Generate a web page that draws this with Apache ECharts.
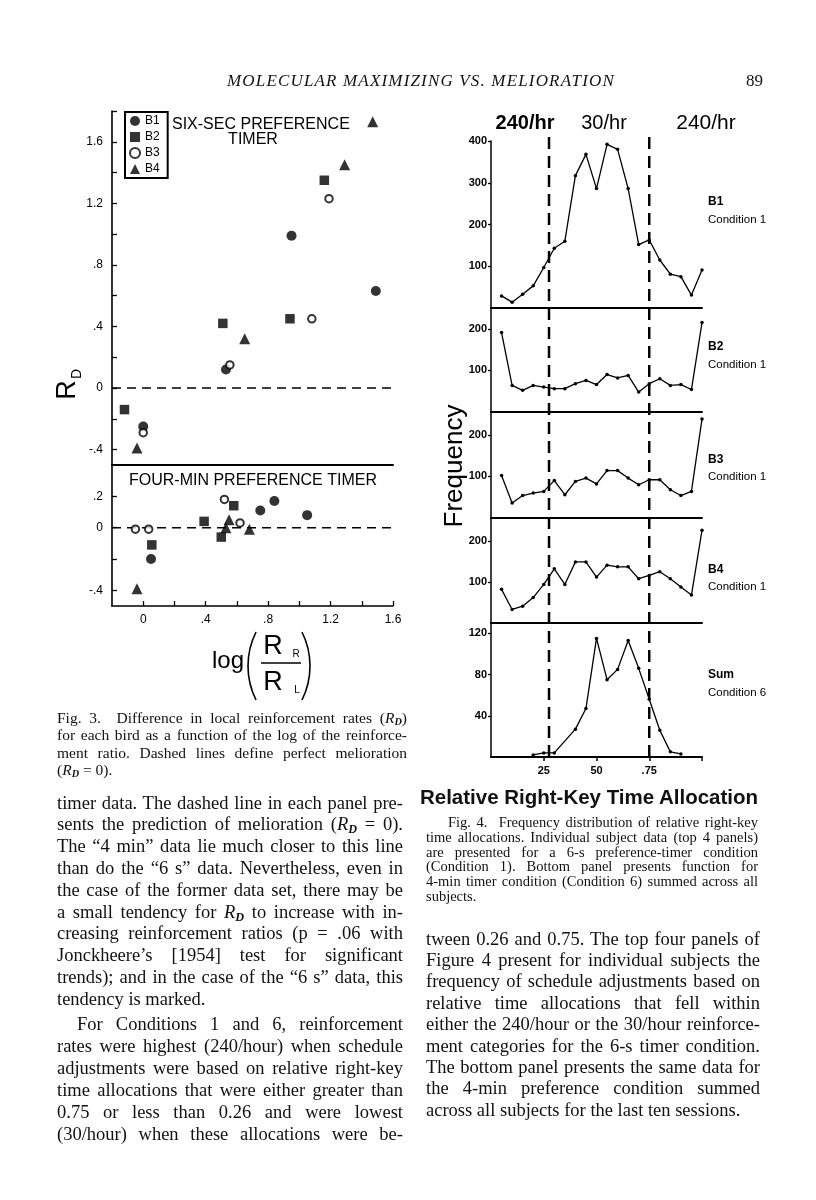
<!DOCTYPE html>
<html><head><meta charset="utf-8">
<script src="https://cdn.jsdelivr.net/npm/echarts@6/dist/echarts.min.js"></script>
<style>
html,body{margin:0;padding:0;background:#fff}
#wrap{position:relative;width:816px;height:1200px;overflow:hidden;background:#fff}
#chart{position:absolute;left:0;top:0;width:816px;height:1200px}
.ln{position:absolute;white-space:nowrap;color:#111;font-family:"Liberation Serif","Times New Roman",serif}
</style></head>
<body><div id="wrap"><div id="chart"></div><div id="txt"></div></div>
<script>
// ---------------- DATA ----------------
// Fig. 3: log(RR/RL) vs RD
const birds = ['B1', 'B2', 'B3', 'B4'];
const fig3XTicks = [0, 0.2, 0.4, 0.6, 0.8, 1.0, 1.2, 1.4, 1.6];
const fig3XLabels = [0, 0.4, 0.8, 1.2, 1.6];
const fig3TopYTicks = [-0.4, -0.2, 0, 0.2, 0.4, 0.6, 0.8, 1.0, 1.2, 1.4, 1.6, 1.8];
const fig3TopYLabels = [-0.4, 0, 0.4, 0.8, 1.2, 1.6];
const fig3BotYTicks = [-0.4, -0.2, 0, 0.2];
const fig3BotYLabels = [-0.4, 0, 0.2];
const sixSecB1 = [[0.0, -0.25], [0.53, 0.12], [0.95, 0.99], [1.49, 0.63]];
const sixSecB2 = [[-0.12, -0.14], [0.51, 0.42], [0.94, 0.45], [1.16, 1.35]];
const sixSecB3 = [[0.0, -0.29], [0.555, 0.15], [1.08, 0.45], [1.19, 1.23]];
const sixSecB4 = [[-0.04, -0.39], [0.65, 0.32], [1.29, 1.45], [1.47, 1.73]];
const fourMinB1 = [[0.05, -0.2], [0.75, 0.11], [0.84, 0.17], [1.05, 0.08]];
const fourMinB2 = [[0.055, -0.11], [0.39, 0.04], [0.5, -0.06], [0.58, 0.14]];
const fourMinB3 = [[-0.05, -0.01], [0.035, -0.01], [0.52, 0.18], [0.62, 0.03]];
const fourMinB4 = [[-0.04, -0.39], [0.53, 0.0], [0.55, 0.05], [0.68, -0.01]];
const meliorationRD = 0;

// Fig. 4: frequency vs relative right-key time allocation
const allocX = [5, 10, 15, 20, 25, 30, 35, 40, 45, 50, 55, 60, 65, 70, 75, 80, 85, 90, 95, 100];
const freqB1 = [29, 14, 33, 53, 97, 143, 160, 317, 368, 286, 392, 380, 286, 152, 163, 115, 81, 75, 31, 91];
const freqB2 = [191, 64, 52, 64, 60, 56, 56, 68, 76, 66, 90, 82, 88, 48, 68, 80, 64, 66, 54, 215];
const freqB3 = [102, 36, 54, 60, 64, 90, 56, 88, 96, 82, 114, 114, 96, 80, 92, 92, 68, 54, 64, 238];
const freqB4 = [82, 33, 41, 62, 94, 132, 94, 149, 149, 112, 141, 137, 137, 108, 116, 125, 108, 88, 68, 226];
const sumX = [20, 25, 30, 40, 45, 50, 55, 60, 65, 70, 75, 80, 85, 90];
const freqSum = [2, 4, 4, 27, 47, 115, 75, 85, 113, 86, 56, 26, 5, 3];
const boundaryX = [27.5, 75];
const rateLabels = ['240/hr', '30/hr', '240/hr'];
const fig4XTicks = [25, 50, 75, 100];
const fig4XLabels = [25, 50, 75];
const b1YTicks = [100, 200, 300, 400];
const bYTicks = [100, 200];
const sumYTicks = [40, 80, 120];
const panelNames = ['B1', 'B2', 'B3', 'B4', 'Sum'];
const panelConds = ['Condition 1', 'Condition 1', 'Condition 1', 'Condition 1', 'Condition 6'];

// Page text
const headerText = 'MOLECULAR MAXIMIZING VS. MELIORATION';
const pageNumber = '89';
const RD = '<i>R</i><sub style="font-size:0.66em;font-style:italic;font-weight:bold;vertical-align:-0.22em;line-height:0">D</sub>';
const fig3Caption = [
  'Fig. 3.&nbsp; Difference in local reinforcement rates (' + RD + ')',
  'for each bird as a function of the log of the reinforce-',
  'ment ratio. Dashed lines define perfect melioration',
  '(' + RD + ' = 0).'
];
const fig4Title = 'Relative Right-Key Time Allocation';
const fig4Caption = [
  'Fig. 4.&nbsp; Frequency distribution of relative right-key',
  'time allocations. Individual subject data (top 4 panels)',
  'are presented for a 6-s preference-timer condition',
  '(Condition 1). Bottom panel presents function for',
  '4-min timer condition (Condition 6) summed across all',
  'subjects.'
];
const bodyLeft1 = [
  'timer data. The dashed line in each panel pre-',
  'sents the prediction of melioration (' + RD + ' = 0).',
  'The \u201c4 min\u201d data lie much closer to this line',
  'than do the \u201c6 s\u201d data. Nevertheless, even in',
  'the case of the former data set, there may be',
  'a small tendency for ' + RD + ' to increase with in-',
  'creasing reinforcement ratios (p = .06 with',
  'Jonckheere\u2019s [1954] test for significant',
  'trends); and in the case of the \u201c6 s\u201d data, this',
  'tendency is marked.'
];
const bodyLeft2 = [
  'For Conditions 1 and 6, reinforcement',
  'rates were highest (240/hour) when schedule',
  'adjustments were based on relative right-key',
  'time allocations that were either greater than',
  '0.75 or less than 0.26 and were lowest',
  '(30/hour) when these allocations were be-'
];
const bodyRight = [
  'tween 0.26 and 0.75. The top four panels of',
  'Figure 4 present for individual subjects the',
  'frequency of schedule adjustments based on',
  'relative time allocations that fell within',
  'either the 240/hour or the 30/hour reinforce-',
  'ment categories for the 6-s timer condition.',
  'The bottom panel presents the same data for',
  'the 4-min preference condition summed',
  'across all subjects for the last ten sessions.'
];

// ---------------- CHART ----------------
const SANS = '"Liberation Sans", Arial, sans-serif';
const BLACK = '#000';
const fmtDot = v => {
  const s = String(Math.round(v * 10) / 10);
  return s.replace(/^0\./, '.').replace(/^-0\./, '-.');
};

const grids = [
  { left: 112, top: 111, width: 281, height: 354 }, // fig3 six-sec
  { left: 112, top: 465, width: 281, height: 141 }, // fig3 four-min
  { left: 491, top: 141, width: 211, height: 167 }, // B1
  { left: 491, top: 308, width: 211, height: 104 }, // B2
  { left: 491, top: 412, width: 211, height: 106 }, // B3
  { left: 491, top: 518, width: 211, height: 105 }, // B4
  { left: 491, top: 623, width: 211, height: 134 }, // Sum
  { left: 491, top: 133, width: 211, height: 624 }  // overlay for boundaries
];

const xAxes = [
  { type: 'value', gridIndex: 0, min: -0.2, max: 1.6,
    axisLine: { onZero: false, lineStyle: { color: BLACK, width: 2 } },
    axisTick: { show: false }, axisLabel: { show: false }, splitLine: { show: false } },
  { type: 'value', gridIndex: 1, min: -0.2, max: 1.6,
    axisLine: { onZero: false, lineStyle: { color: BLACK, width: 1.6 } },
    axisTick: { show: true, inside: true, length: 5, customValues: fig3XTicks, lineStyle: { color: BLACK, width: 1.3 } },
    axisLabel: { show: true, customValues: fig3XLabels, formatter: fmtDot, color: BLACK, fontSize: 12, fontFamily: SANS, margin: 8 },
    splitLine: { show: false } }
];
for (let g = 2; g <= 6; g++) {
  const bottom = g === 6;
  xAxes.push({
    type: 'value', gridIndex: g, min: 0, max: 100,
    axisLine: { onZero: false, lineStyle: { color: BLACK, width: 2 } },
    axisTick: bottom ? { show: true, length: 4, customValues: fig4XTicks, lineStyle: { color: BLACK, width: 1.5 } } : { show: false },
    axisLabel: bottom ? { show: true, customValues: fig4XLabels, formatter: v => (v === 75 ? '.75' : String(v)),
      color: BLACK, fontSize: 11, fontWeight: 'bold', fontFamily: SANS, margin: 8 } : { show: false },
    splitLine: { show: false }
  });
}
xAxes.push({ type: 'value', gridIndex: 7, min: 0, max: 100, show: false });

const yAxes = [
  { type: 'value', gridIndex: 0, min: -0.5, max: 1.8,
    axisLine: { show: true, onZero: false, lineStyle: { color: BLACK, width: 1.6 } },
    axisTick: { show: true, inside: true, length: 5, customValues: fig3TopYTicks, lineStyle: { color: BLACK, width: 1.3 } },
    axisLabel: { show: true, customValues: fig3TopYLabels, formatter: fmtDot, color: BLACK, fontSize: 12, fontFamily: SANS, margin: 9 },
    splitLine: { show: false } },
  { type: 'value', gridIndex: 1, min: -0.5, max: 0.4,
    axisLine: { show: true, onZero: false, lineStyle: { color: BLACK, width: 1.6 } },
    axisTick: { show: true, inside: true, length: 5, customValues: fig3BotYTicks, lineStyle: { color: BLACK, width: 1.3 } },
    axisLabel: { show: true, customValues: fig3BotYLabels, formatter: fmtDot, color: BLACK, fontSize: 12, fontFamily: SANS, margin: 9 },
    splitLine: { show: false } }
];
const f4y = (g, max, ticks) => ({
  type: 'value', gridIndex: g, min: 0, max: max,
  axisLine: { show: true, onZero: false, lineStyle: { color: BLACK, width: 1.5 } },
  axisTick: { show: true, length: 3, customValues: ticks, lineStyle: { color: BLACK, width: 1.3 } },
  axisLabel: { show: true, customValues: ticks, color: BLACK, fontSize: 11, fontWeight: 'bold', fontFamily: SANS, margin: 4 },
  splitLine: { show: false }
});
yAxes.push(f4y(2, 400, b1YTicks));
yAxes.push(f4y(3, 250, bYTicks));
yAxes.push(f4y(4, 255, bYTicks));
yAxes.push(f4y(5, 256, bYTicks));
yAxes.push(f4y(6, 130, sumYTicks));
yAxes.push({ type: 'value', gridIndex: 7, min: 0, max: 1, show: false });

const birdStyle = {
  B1: { symbol: 'circle', size: 10, fill: BLACK, bw: 0 },
  B2: { symbol: 'rect', size: 9.5, fill: BLACK, bw: 0 },
  B3: { symbol: 'circle', size: 7.5, fill: '#fff', bw: 2 },
  B4: { symbol: 'triangle', size: 11, fill: BLACK, bw: 0 }
};
const scat = (name, data, g) => ({
  type: 'scatter', name: name, xAxisIndex: g, yAxisIndex: g, data: data,
  symbol: birdStyle[name].symbol, symbolSize: birdStyle[name].size, silent: true, z: 5,
  itemStyle: { color: birdStyle[name].fill, borderColor: BLACK, borderWidth: birdStyle[name].bw }
});
const dashed = (data, g, w, pattern) => ({
  type: 'line', xAxisIndex: g, yAxisIndex: g, data: data, symbol: 'none', silent: true, z: 2,
  lineStyle: { color: BLACK, width: w, type: pattern }
});
const freqLine = (xs, ys, g) => ({
  type: 'line', xAxisIndex: g, yAxisIndex: g, data: xs.map((x, i) => [x, ys[i]]),
  symbol: 'circle', symbolSize: 3.5, showSymbol: true, silent: true, z: 4,
  itemStyle: { color: BLACK }, lineStyle: { color: BLACK, width: 1.3 }
});

const sixSec = [sixSecB1, sixSecB2, sixSecB3, sixSecB4];
const fourMin = [fourMinB1, fourMinB2, fourMinB3, fourMinB4];
const series = [
  dashed([[-0.2, meliorationRD], [1.6, meliorationRD]], 0, 1.5, [9, 6]),
  dashed([[-0.2, meliorationRD], [1.6, meliorationRD]], 1, 1.5, [9, 6])
];
birds.forEach((b, i) => series.push(scat(b, sixSec[i], 0)));
birds.forEach((b, i) => series.push(scat(b, fourMin[i], 1)));
series.push(freqLine(allocX, freqB1, 2));
series.push(freqLine(allocX, freqB2, 3));
series.push(freqLine(allocX, freqB3, 4));
series.push(freqLine(allocX, freqB4, 5));
series.push(freqLine(sumX, freqSum, 6));
boundaryX.forEach(bx => series.push(dashed([[bx, 0], [bx, 1]], 7, 2.5, [12, 7])));

const T = (text, x, y, size, o) => {
  o = o || {};
  return { type: 'text', x: x, y: y, rotation: o.rot || 0, z: 100, silent: true,
    style: { text: text, font: (o.weight || 'normal') + ' ' + size + 'px ' + SANS, fill: BLACK,
      align: o.align || 'left', verticalAlign: 'middle' } };
};
const graphic = [
  T('SIX-SEC PREFERENCE', 172, 125, 16),
  T('TIMER', 253, 140, 16, { align: 'center' }),
  T('FOUR-MIN PREFERENCE TIMER', 129, 481, 16),
  T('R', 68, 390, 27, { align: 'center', rot: Math.PI / 2 }),
  T('D', 77, 374, 14, { align: 'center', rot: Math.PI / 2 }),
  T('log', 212, 661, 24),
  { type: 'arc', z: 100, silent: true, shape: { cx: 324, cy: 666, r: 76, startAngle: Math.PI - 0.464, endAngle: Math.PI + 0.464, clockwise: true },
    style: { stroke: BLACK, lineWidth: 1.6, fill: null } },
  { type: 'arc', z: 100, silent: true, shape: { cx: 234, cy: 666, r: 76, startAngle: -0.464, endAngle: 0.464, clockwise: true },
    style: { stroke: BLACK, lineWidth: 1.6, fill: null } },
  T('R', 273, 647, 27, { align: 'center' }),
  T('R', 296, 654, 10, { align: 'center' }),
  { type: 'line', z: 100, silent: true, shape: { x1: 261, y1: 663, x2: 301, y2: 663 }, style: { stroke: BLACK, lineWidth: 1.5 } },
  T('R', 273, 683, 27, { align: 'center' }),
  T('L', 297, 690, 10, { align: 'center' }),
  T(rateLabels[0], 525, 123, 20, { align: 'center', weight: 'bold' }),
  T(rateLabels[1], 604, 123, 20, { align: 'center' }),
  T(rateLabels[2], 706, 123, 21, { align: 'center' }),
  T('Frequency', 455, 466, 26, { align: 'center', rot: Math.PI / 2 })
];
const panelLabelY = [[202, 220], [347, 365], [460, 477], [570, 587], [675, 693]];
panelNames.forEach((n, i) => {
  graphic.push(T(n, 708, panelLabelY[i][0], 12, { weight: 'bold' }));
  graphic.push(T(panelConds[i], 708, panelLabelY[i][1], 11.5));
});

const chart = echarts.init(document.getElementById('chart'), null, { renderer: 'canvas' });
chart.setOption({
  animation: false,
  backgroundColor: 'transparent',
  textStyle: { fontFamily: SANS },
  legend: {
    data: birds, orient: 'vertical', left: 125, top: 112,
    itemWidth: 10, itemHeight: 10, itemGap: 4, padding: [3, 8, 3, 4],
    borderColor: BLACK, borderWidth: 2, selectedMode: false,
    textStyle: { color: BLACK, fontSize: 12, fontFamily: SANS }
  },
  grid: grids,
  xAxis: xAxes,
  yAxis: yAxes,
  series: series,
  graphic: graphic
});

// ---------------- PAGE TEXT ----------------
const txtBox = document.getElementById('txt');
function addLine(s) {
  const d = document.createElement('div');
  d.className = 'ln';
  const lh = Math.round(s.size * 1.25);
  d.style.left = s.x + 'px';
  d.style.top = (s.y - lh / 2) + 'px';
  d.style.lineHeight = lh + 'px';
  d.style.fontSize = s.size + 'px';
  if (s.italic) d.style.fontStyle = 'italic';
  if (s.bold) d.style.fontWeight = 'bold';
  if (s.family) d.style.fontFamily = s.family;
  d.innerHTML = s.html;
  txtBox.appendChild(d);
  if (s.fit) {
    const nat = d.getBoundingClientRect().width;
    if (s.fit === 'word') {
      const n = (d.textContent.match(/[ \u00a0]/g) || []).length;
      if (n > 0) d.style.wordSpacing = ((s.w - nat) / n) + 'px';
    } else if (s.fit === 'letter') {
      const n = d.textContent.length;
      d.style.letterSpacing = ((s.w - nat) / n) + 'px';
    }
  }
}
function addPara(lines, x, w, y0, dy, size, indent, lastJustified) {
  lines.forEach((t, i) => {
    const ind = i === 0 ? indent : 0;
    const isLast = i === lines.length - 1;
    addLine({ html: t, x: x + ind, w: w - ind, y: y0 + i * dy, size: size, fit: (isLast && !lastJustified) ? null : 'word' });
  });
}
// header
addLine({ html: headerText, x: 227, w: 388, y: 80, size: 17, italic: true, fit: 'letter' });
addLine({ html: pageNumber, x: 746, y: 80, size: 17 });
// fig 3 caption
addPara(fig3Caption, 57, 350, 717, 17.5, 15.5, 0, false);
// fig 4 title + caption
addLine({ html: fig4Title, x: 420, w: 338, y: 797, size: 20.5, bold: true, family: SANS, fit: 'letter' });
addPara(fig4Caption, 426, 332, 822, 14.8, 14.5, 22, false);
// body
addPara(bodyLeft1, 57, 346, 803, 21.8, 18.5, 0, false);
addPara(bodyLeft2, 57, 346, 1024, 22, 18.5, 20, true);
addPara(bodyRight, 426, 334, 939, 21.4, 18.5, 0, false);
</script></body></html>
